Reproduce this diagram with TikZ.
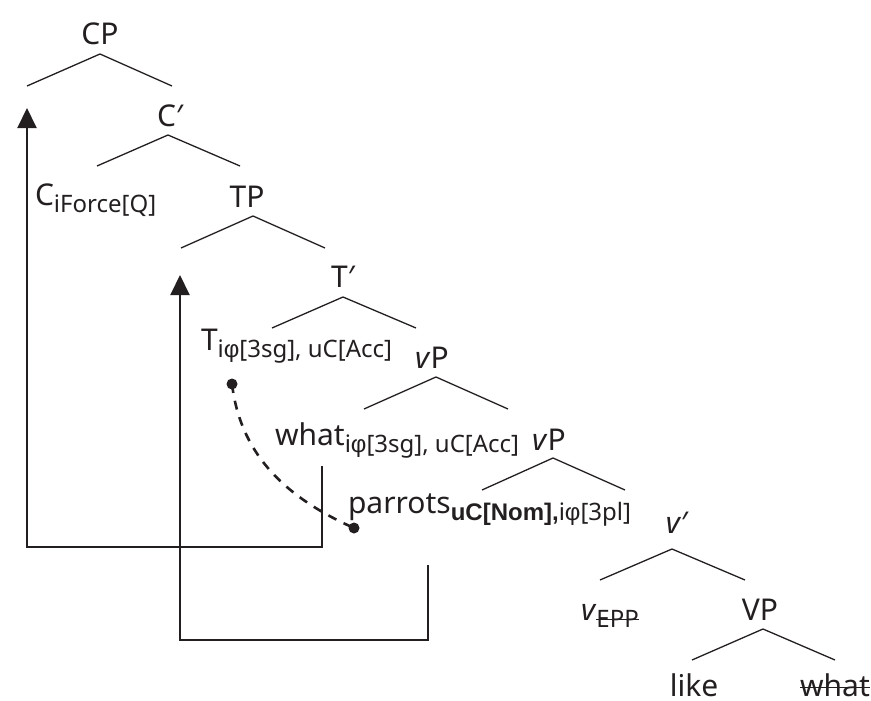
\documentclass[tikz,border=0pt]{standalone}
\usepackage{fontspec}
\setmainfont{Noto Sans}
\newfontfamily\boldsub{Liberation Sans Bold}
\newfontfamily\phifont{Liberation Sans}
\usetikzlibrary{arrows.meta}
\definecolor{ink}{RGB}{35,31,32}
\newcommand\subtx[1]{\raisebox{-7pt}{\fontsize{24}{26}\selectfont #1}}
\newcommand\strikeit[2]{\setbox0\hbox{#2}\rlap{\color{ink}\rule[#1]{\wd0}{1.2pt}}\box0}
\newcommand\ph{{\phifont φ}}
\begin{document}
\begin{tikzpicture}[x=1pt,y=-1pt,
 lab/.style={inner sep=0pt, outer sep=0pt, text=ink, font=\fontsize{30}{32}\selectfont},
 branch/.style={draw=ink, line width=1.3pt},
 movearrow/.style={draw=ink, line width=2pt, -{Triangle[width=19pt,length=20pt]}},
 agree/.style={draw=ink, line width=2.6pt, dash pattern=on 9pt off 8pt},
 dotnode/.style={circle, fill=ink, inner sep=0pt, minimum size=11pt}]
\useasboundingbox (0,0) rectangle (871,701);
% labels
\node[lab, anchor=base] (CP) at (100,45) {CP};
\node[lab, anchor=base] (Cbar) at (170,126) {C′};
\node[lab, anchor=base west] (C) at (35,205) {C\subtx{iForce[Q]}};
\node[lab, anchor=base] (TP) at (247,207) {TP};
\node[lab, anchor=base] (Tbar) at (343,287) {T′};
\node[lab, anchor=base west] (T) at (201,350) {T\subtx{i\ph[3sg], uC[Acc]}};
\node[lab, anchor=base] (vP1) at (432,368) {\textit{v}P};
\node[lab, anchor=base west] (what1) at (275,445) {what\subtx{i\ph[3sg], uC[Acc]}};
\node[lab, anchor=base] (vP2) at (549,450) {\textit{v}P};
\node[lab, anchor=base west] (parrots) at (348,513) {parrots\subtx{{\boldsub uC[Nom],}i\ph[3pl]}};
\node[lab, anchor=base] (vbar) at (677,533) {\textit{v}′};
\node[lab, anchor=base west] (v) at (581,620) {\textit{v}\subtx{\strikeit{7pt}{EPP}}};
\node[lab, anchor=base] (VP) at (760,620) {VP};
\node[lab, anchor=base] (like) at (694,696) {like};
\node[lab, anchor=base] (what2) at (835,696) {\strikeit{8pt}{what}};
% branches
\coordinate (b1a) at (100,54);  \coordinate (b1l) at (27,86);   \coordinate (b1r) at (172,86);
\coordinate (b2a) at (168,135); \coordinate (b2l) at (97,166);  \coordinate (b2r) at (240,166);
\coordinate (b3a) at (253,216); \coordinate (b3l) at (181,248); \coordinate (b3r) at (325,248);
\coordinate (b4a) at (343,297); \coordinate (b4l) at (272,328); \coordinate (b4r) at (416,328);
\coordinate (b5a) at (436,377); \coordinate (b5l) at (364,409); \coordinate (b5r) at (508,409);
\coordinate (b6a) at (553,458); \coordinate (b6l) at (482,490); \coordinate (b6r) at (625,490);
\coordinate (b7a) at (672,549); \coordinate (b7l) at (600,580); \coordinate (b7r) at (745,580);
\coordinate (b8a) at (763,629); \coordinate (b8l) at (692,660); \coordinate (b8r) at (835,660);
\foreach \i in {1,...,8} {\draw[branch] (b\i l) -- (b\i a) -- (b\i r);}
% movement arrows
\coordinate (m1s) at (322,466); \coordinate (m1c) at (322,547); \coordinate (m1t) at (27,108);
\draw[movearrow] (m1s) -- (m1c) -| (m1t);
\coordinate (m2s) at (428,565); \coordinate (m2c) at (428,640); \coordinate (m2t) at (180,275);
\draw[movearrow] (m2s) -- (m2c) -| (m2t);
% agreement
\node[dotnode] (d1) at (232,384) {};
\node[dotnode] (d2) at (354,528) {};
\draw[agree] (d1.center) .. controls (240,450) and (280,495) .. (d2.center);
\end{tikzpicture}
\end{document}
